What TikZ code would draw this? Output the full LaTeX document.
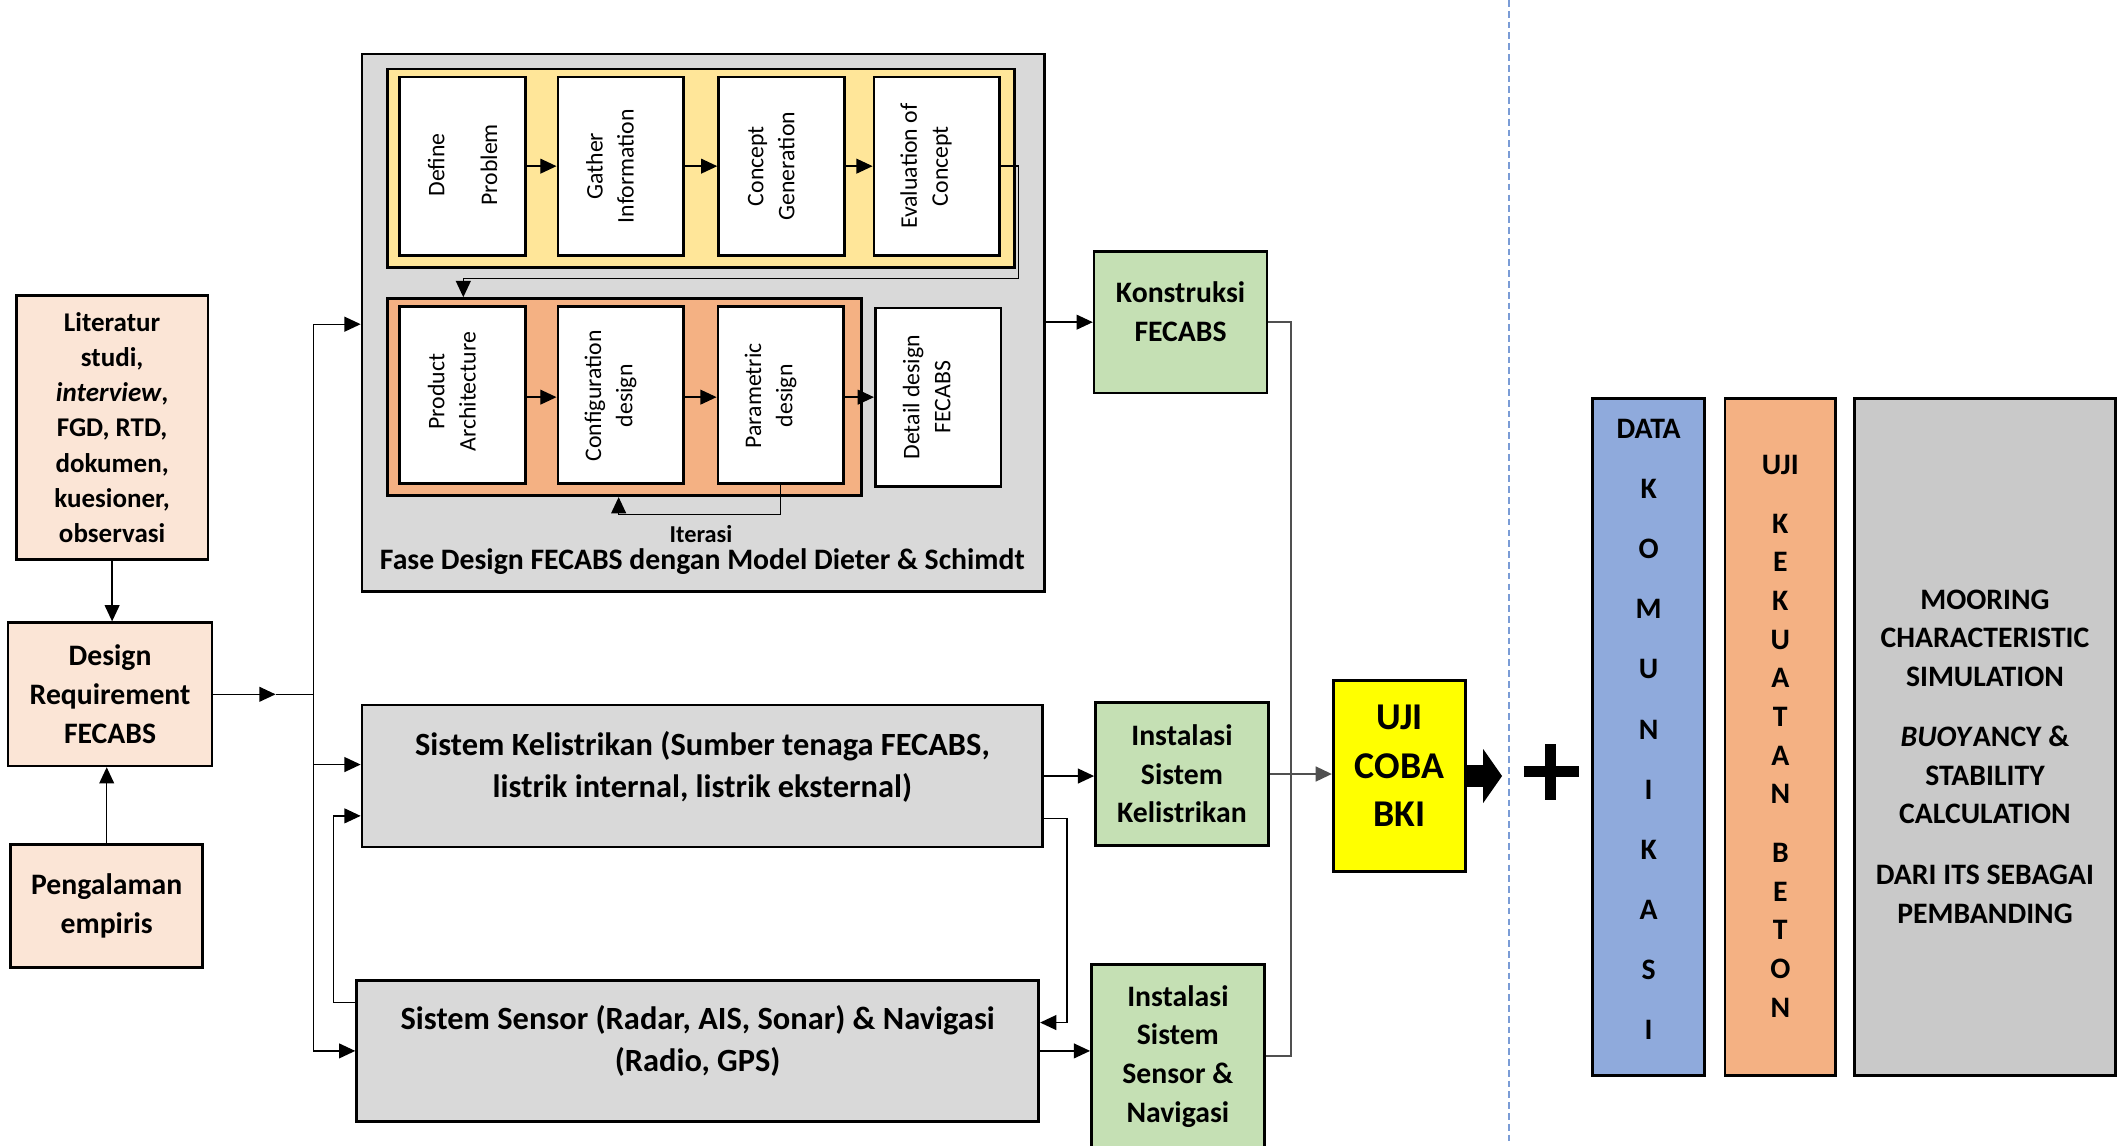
\documentclass[tikz,border=0pt]{standalone}
\usepackage{fontspec}
\setmainfont{Carlito}
\usetikzlibrary{arrows.meta,calc}
\definecolor{phasegray}{HTML}{D9D9D9}
\definecolor{phaseyellow}{HTML}{FFE699}
\definecolor{phaseorange}{HTML}{F4B183}
\definecolor{reqfill}{HTML}{FBE5D6}
\definecolor{buildgreen}{HTML}{C5E0B4}
\definecolor{trialyellow}{HTML}{FFFF00}
\definecolor{datablue}{HTML}{8FAADC}
\definecolor{simgray}{HTML}{C9C9C9}
\definecolor{busgray}{HTML}{505050}
\definecolor{sepblue}{HTML}{7A9CD6}
\begin{document}
\begin{tikzpicture}[x=0.5pt,y=-0.5pt,
  box/.style={draw=black, line width=1pt, rectangle, inner sep=0pt, align=center},
  wbox/.style={box, fill=white, minimum width=46.5pt},
  vtext/.style={rotate=90, align=center, inner sep=0pt, font=\fontsize{8.8}{11.5}\selectfont},
  txt/.style={align=center, inner sep=0pt},
  arr/.style={-{Triangle[length=6pt,width=5.5pt]}, line width=0.5pt},
  line/.style={line width=0.5pt},
  gline/.style={line width=0.75pt, draw=busgray},
  garr/.style={arr, draw=busgray, line width=0.75pt}]
\useasboundingbox (0,0) rectangle (1568,848);

% ---------- inputs ----------
\node[box, fill=reqfill, minimum width=71pt, minimum height=97.5pt,
      font=\fontsize{10}{13}\selectfont\bfseries] (lit) at (83,316.5)
  {Literatur\\studi,\\\textit{interview},\\FGD, RTD,\\dokumen,\\kuesioner,\\observasi};
\node[box, fill=reqfill, minimum width=75.5pt, minimum height=53pt,
      font=\fontsize{11}{14.5}\selectfont\bfseries] (req) at (81.5,514)
  {Design\\Requirement\\FECABS};
\node[box, fill=reqfill, minimum width=71pt, minimum height=45.5pt,
      font=\fontsize{11}{14.5}\selectfont\bfseries] (emp) at (79,670.5)
  {Pengalaman\\empiris};

% ---------- design phase (Dieter & Schmidt) ----------
\node[box, fill=phasegray, minimum width=252.5pt, minimum height=199pt] (fase) at (520.5,239) {};
\node[box, fill=phaseyellow, minimum width=232pt, minimum height=73.5pt] (yel) at (519,124.5) {};
\node[box, fill=phaseorange, minimum width=175.5pt, minimum height=73pt] (ora) at (462.5,294) {};

\node[wbox, minimum height=66pt] (def) at (342.5,123) {};
\node[wbox, minimum height=66pt] (gat) at (459.5,123) {};
\node[wbox, minimum height=66pt] (con) at (578.5,123) {};
\node[wbox, minimum height=66pt] (eva) at (693.5,123) {};
\node[vtext, font=\fontsize{8.8}{19.5}\selectfont] (def-t) at (342.5,122) {Define\\Problem};
\node[vtext] (gat-t) at (451.5,123) {Gather\\Information};
\node[vtext] (con-t) at (571,123) {Concept\\Generation};
\node[vtext] (eva-t) at (685.5,123) {Evaluation of\\Concept};

\node[wbox, minimum height=65.5pt] (pro) at (342.5,292.5) {};
\node[wbox, minimum height=65.5pt] (cfg) at (459.5,292.5) {};
\node[wbox, minimum height=65.5pt] (par) at (578,292.5) {};
\node[wbox, minimum height=66pt] (det) at (694.5,294) {};
\node[vtext] (pro-t) at (334.5,290) {Product\\Architecture};
\node[vtext] (cfg-t) at (452,293) {Configuration\\design};
\node[vtext] (par-t) at (570.5,293) {Parametric\\design};
\node[vtext] (det-t) at (686,294) {Detail design\\FECABS};

\draw[arr] (def.east) -- (gat.west);
\draw[arr] (gat.east) -- (con.west);
\draw[arr] (con.east) -- (eva.west);
\coordinate (loop) at (754,206);
\draw[arr] (eva.east) -| (loop) -| ($(ora.north west)+(57,0)$);
\draw[arr] (pro.east |- 0,294) -- (cfg.west |- 0,294);
\draw[arr] (cfg.east |- 0,294) -- (par.west |- 0,294);
\draw[arr] (par.east |- 0,294) -- (det.west |- 0,294);
\coordinate (itc) at (458,381);
\draw[arr] (par.south) |- (itc) -- (itc |- ora.south);
\node[txt, font=\fontsize{9}{11}\selectfont\bfseries] (itr) at (519,395) {Iterasi};
\node[txt, font=\fontsize{11}{13}\selectfont\bfseries] (fase-t) at (520,416)
  {Fase Design FECABS dengan Model Dieter \& Schimdt};

% ---------- systems ----------
\node[box, fill=phasegray, minimum width=252pt, minimum height=52.5pt] (kel) at (520,574.5) {};
\node[txt, font=\fontsize{12}{15.5}\selectfont\bfseries] (kel-t) at (520,567.5)
  {Sistem Kelistrikan (Sumber tenaga FECABS,\\listrik internal, listrik eksternal)};
\node[box, fill=phasegray, minimum width=252.5pt, minimum height=52pt] (sen) at (516.5,778) {};
\node[txt, font=\fontsize{12}{15.5}\selectfont\bfseries] (sen-t) at (516.5,770.5)
  {Sistem Sensor (Radar, AIS, Sonar) \& Navigasi\\(Radio, GPS)};

% ---------- build / install ----------
\node[box, fill=buildgreen, minimum width=64pt, minimum height=52.5pt] (kon) at (874,238.5) {};
\node[txt, font=\fontsize{11}{14.5}\selectfont\bfseries] (kon-t) at (874,230.5) {Konstruksi\\FECABS};
\node[box, fill=buildgreen, minimum width=64pt, minimum height=53pt,
      font=\fontsize{11}{14.3}\selectfont\bfseries] (ikel) at (875,573)
  {Instalasi\\Sistem\\Kelistrikan};
\node[box, fill=buildgreen, minimum width=64pt, minimum height=68pt,
      font=\fontsize{11}{14.3}\selectfont\bfseries] (isen) at (872,782)
  {Instalasi\\Sistem\\Sensor \&\\Navigasi};

\node[box, fill=trialyellow, minimum width=49pt, minimum height=70.5pt] (uji) at (1036,574.5) {};
\node[txt, font=\fontsize{14}{18}\selectfont\bfseries] (uji-t) at (1036,567) {UJI\\COBA\\BKI};

% ---------- left bus ----------
\coordinate (reqmid) at (204,514);
\coordinate (busMid) at (232,514);
\coordinate (busTop) at (232,240);
\coordinate (busKel) at (232,566);
\coordinate (busBot) at (232,778);
\draw[arr] (lit.south) -- (lit.south |- req.north);
\draw[arr] (emp.north) -- (emp.north |- req.south);
\draw[arr] (req.east) -- (reqmid);
\draw[line] (reqmid) -- (busMid);
\draw[line] (busTop) -- (busBot);
\draw[arr] (busTop) -- (busTop -| fase.west);
\draw[arr] (busKel) -- (busKel -| kel.west);
\draw[arr] (busBot) -- (busBot -| sen.west);

% feedback between the two systems
\coordinate (fbL) at (247,742);
\draw[arr] (sen.west |- fbL) -- (fbL) |- ($(kel.west)+(0,29.5)$);
\coordinate (fbR) at (790,757);
\draw[arr] ($(kel.east)+(0,31.5)$) -| (fbR) -- (fbR -| sen.east);

% ---------- to build and trial ----------
\draw[arr] (fase.east |- kon.west) -- (kon.west);
\draw[arr] (kel.east) -- (kel.east -| ikel.west);
\draw[arr] (sen.east) -- (sen.east -| isen.west);
\coordinate (rb) at (956,0);
\draw[gline] (kon.east) -| (rb |- isen.east) -- (isen.east);
\draw[garr] (ikel.east) -- (ikel.east -| uji.west);

% block arrow out of the trial
\fill[black] ($(uji.east)+(0,-8)$) -- ++(12,0) -- ++(0,-12) -- ++(14,20) -- ++(-14,20) -- ++(0,-12) -- ++(-12,0) -- cycle;

% separator
\draw[sepblue, line width=0.7pt, dash pattern=on 2.5pt off 1.5pt] (1117,0) -- (1117,848);

% plus sign
\draw[line width=4pt] (1128,571) -- (1169,571);
\draw[line width=4pt] (1148,551) -- (1148,592);

% ---------- supporting results ----------
\node[box, fill=datablue, minimum width=41.5pt, minimum height=250.5pt] (dk) at (1220.5,545.5) {};
\node[txt, font=\fontsize{11}{22.25}\selectfont\bfseries] (dk-t) at (1220.5,540)
  {DATA\\K\\O\\M\\U\\N\\I\\K\\A\\S\\I};
\node[box, fill=phaseorange, minimum width=41pt, minimum height=250.5pt] (ujk) at (1318,545.5) {};
\node[txt, font=\fontsize{11}{14.3}\selectfont\bfseries] (ujk-t) at (1318,545)
  {UJI\\[7.5pt]K\\E\\K\\U\\A\\T\\A\\N\\[7.5pt]B\\E\\T\\O\\N};
\node[box, fill=simgray, minimum width=96.5pt, minimum height=250.5pt] (sim) at (1469.5,545.5) {};
\node[txt, font=\fontsize{11}{14.25}\selectfont\bfseries] (sim-t) at (1469.5,560)
  {MOORING\\CHARACTERISTIC\\SIMULATION\\[8.25pt]\textit{BUOY}ANCY \&\\STABILITY\\CALCULATION\\[8.25pt]DARI ITS SEBAGAI\\PEMBANDING};
\end{tikzpicture}
\end{document}
